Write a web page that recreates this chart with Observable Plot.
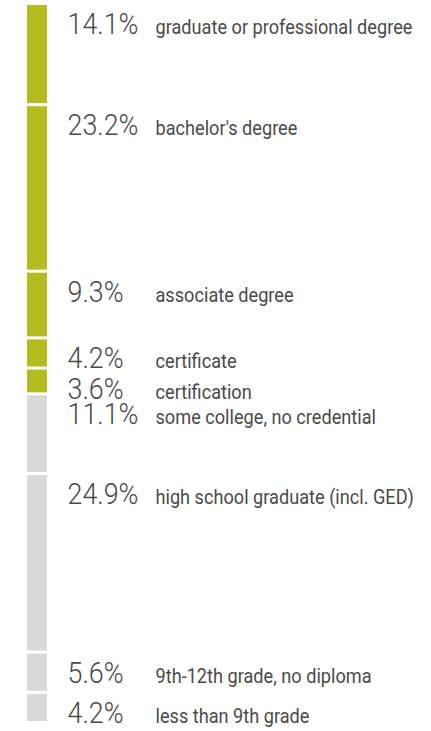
<!DOCTYPE html>
<html>
<head>
<meta charset="utf-8">
<script src="https://cdn.jsdelivr.net/npm/d3@7"></script>
<script src="https://cdn.jsdelivr.net/npm/@observablehq/plot@0.6"></script>
<style>
  html, body { margin: 0; padding: 0; background: #fff; }
  #chart svg { display: block; }
</style>
</head>
<body>
<div id="chart"></div>
<script>
const categories = [
  "graduate or professional degree",
  "bachelor's degree",
  "associate degree",
  "certificate",
  "certification",
  "some college, no credential",
  "high school graduate (incl. GED)",
  "9th-12th grade, no diploma",
  "less than 9th grade"
];
const values = [14.1, 23.2, 9.3, 4.2, 3.6, 11.1, 24.9, 5.6, 4.2];
const groups = ["credential", "credential", "credential", "credential", "credential",
                "none", "none", "none", "none"];
const percentLabels = ["14.1%", "23.2%", "9.3%", "4.2%", "3.6%", "11.1%", "24.9%", "5.6%", "4.2%"];

const data = categories.map((c, i) => ({
  category: c, value: values[i], group: groups[i], pct: percentLabels[i], col: "all"
}));
const total = d3.sum(values);

const fontFamily = 'Roboto, "DejaVu Sans", sans-serif';

const chart = Plot.plot({
  width: 431,
  height: 731,
  marginTop: 3.5,
  marginBottom: 8.5,
  marginLeft: 27,
  marginRight: 384,
  style: { fontFamily, background: "#fff" },
  x: { type: "band", domain: ["all"], padding: 0, axis: null },
  y: { domain: [0, total], reverse: true, axis: null },
  color: { domain: ["credential", "none"], range: ["#b5bc1f", "#d9d9d9"] },
  marks: [
    Plot.barY(data, Plot.stackY({
      x: "col", y: "value", fill: "group", insetTop: 1.5, insetBottom: 1.5
    })),
    Plot.text(data, Plot.stackY1({
      x: "col", y: "value", text: "pct",
      textAnchor: "start", lineAnchor: "bottom",
      dx: 30, dy: 30, fontSize: 30, fontWeight: 300, fill: "#4a4a4a"
    })),
    Plot.text(data, Plot.stackY1({
      x: "col", y: "value", text: "category",
      textAnchor: "start", lineAnchor: "bottom",
      dx: 118, dy: 30, fontSize: 20, fontWeight: 400, fill: "#4a4a4a"
    }))
  ]
});
document.getElementById("chart").append(chart);

// Condense glyphs horizontally to mimic the reference's condensed typeface
const textGroups = chart.querySelectorAll('g[aria-label="text"]');
function condense(group, sampleText, targetWidth) {
  const texts = Array.from(group.querySelectorAll("text"));
  const sample = texts.find(t => t.textContent === sampleText) || texts[0];
  const sx = targetWidth / sample.getComputedTextLength();
  texts.forEach(t => {
    const tr = t.getAttribute("transform") || "";
    t.setAttribute("transform", tr + ` scale(${sx},1)`);
  });
}
if (textGroups.length >= 2) {
  condense(textGroups[0], "14.1%", 71);
  condense(textGroups[1], "graduate or professional degree", 257);
}
</script>
</body>
</html>
